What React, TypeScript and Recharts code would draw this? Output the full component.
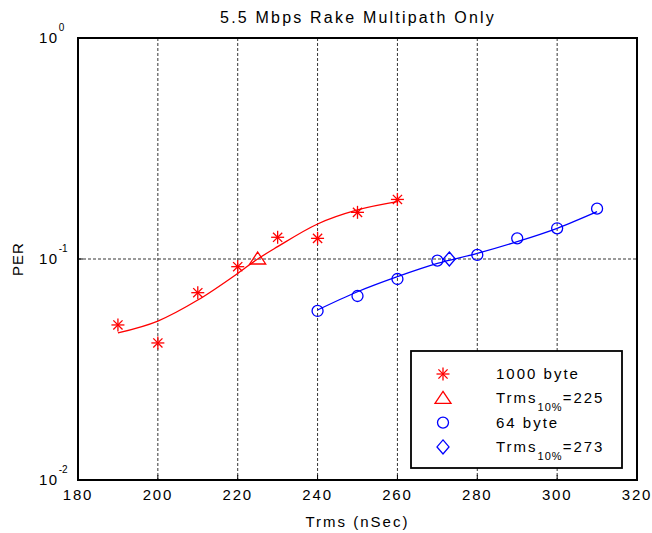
import { ComposedChart, Line, Scatter, XAxis, YAxis, CartesianGrid, ReferenceArea } from 'recharts'

const FONT = '"Liberation Sans", Arial, Helvetica, sans-serif'
const RED = '#ff0000'
const BLUE = '#0000ff'

// axes: Trms (nSec) linear, PER log
const xTicks = [180, 200, 220, 240, 260, 280, 300, 320]
const yTicks = [0.01, 0.1, 1]

// 1000 byte packets: measured PER and fitted curve
const trms1000 = [190, 200, 210, 220, 230, 240, 250, 260]
const per1000 = [0.0503, 0.0417, 0.0704, 0.0923, 0.1254, 0.124, 0.1626, 0.186]
const fitTrms1000 = [190, 200, 210, 220, 225, 230, 240, 250, 260]
const fitPer1000 = [0.0463, 0.0524, 0.0652, 0.0861, 0.1, 0.1137, 0.144, 0.1667, 0.1817]
const cross1000 = { trms: 225, per: 0.1 }

// 64 byte packets
const trms64 = [240, 250, 260, 270, 280, 290, 300, 310]
const per64 = [0.0582, 0.068, 0.0812, 0.0983, 0.1043, 0.124, 0.1377, 0.169]
const fitTrms64 = [240, 250, 260, 270, 280, 290, 300, 310]
const fitPer64 = [0.0588, 0.0711, 0.0832, 0.0955, 0.106, 0.1198, 0.1377, 0.1637]
const cross64 = { trms: 273, per: 0.1 }

const legendItems = [
  { shape: 'star', color: RED, label: '1000 byte' },
  { shape: 'triangle', color: RED, label: 'Trms', sub: '10%', tail: '=225' },
  { shape: 'circle', color: BLUE, label: '64 byte' },
  { shape: 'diamond', color: BLUE, label: 'Trms', sub: '10%', tail: '=273' },
]

const toRows = (xs: number[], ys: number[]) => xs.map((x, i) => ({ x, y: ys[i] }))

function Marker({ shape, cx, cy, color }: { shape: string; cx: number; cy: number; color: string }) {
  const p = { stroke: color, strokeWidth: 1.3, fill: 'none' }
  if (shape === 'star') {
    const h = 6.5
    const d = 4.6
    return (
      <g {...p}>
        <line x1={cx - h} y1={cy} x2={cx + h} y2={cy} />
        <line x1={cx} y1={cy - h} x2={cx} y2={cy + h} />
        <line x1={cx - d} y1={cy - d} x2={cx + d} y2={cy + d} />
        <line x1={cx - d} y1={cy + d} x2={cx + d} y2={cy - d} />
      </g>
    )
  }
  if (shape === 'triangle') {
    return <polygon {...p} points={`${cx},${cy - 7} ${cx + 8},${cy + 5} ${cx - 8},${cy + 5}`} />
  }
  if (shape === 'diamond') {
    return <polygon {...p} points={`${cx},${cy - 7} ${cx + 6},${cy} ${cx},${cy + 7} ${cx - 6},${cy}`} />
  }
  return <circle {...p} cx={cx} cy={cy} r={5.5} />
}

const shapeFor = (shape: string, color: string) => (props: any) =>
  <Marker shape={shape} cx={props.cx} cy={props.cy} color={color} />

function XTick(props: any) {
  const { x, y, payload } = props
  return (
    <text x={x} y={y + 25} textAnchor="middle" fontFamily={FONT} fontSize={15} letterSpacing={1.8} fill="#000">
      {payload.value}
    </text>
  )
}

function PowerTick(props: any) {
  const { x, y, payload } = props
  const exp = Math.round(Math.log10(payload.value))
  return (
    <text fontFamily={FONT} fill="#000">
      <tspan x={x - 44} y={y + 5} fontSize={15} letterSpacing={1.5}>10</tspan>
      <tspan dy={-12} fontSize={10}>{exp}</tspan>
    </text>
  )
}

function ChartLegend() {
  const left = 411
  const top = 351
  return (
    <g fontFamily={FONT} fontSize={15} fill="#000">
      <rect x={left} y={top} width={211} height={117} fill="#fff" stroke="#000" strokeWidth={1.8} />
      {legendItems.map((it, i) => {
        const cy = top + 23 + i * 24.3
        return (
          <g key={i}>
            <Marker shape={it.shape} cx={443} cy={cy} color={it.color} />
            <text x={496} y={cy + 5} letterSpacing={2}>
              {it.label}
              {it.sub && (
                <tspan dy={8} fontSize={11} letterSpacing={1}>{it.sub}</tspan>
              )}
              {it.tail && <tspan dy={-8}>{it.tail}</tspan>}
            </text>
          </g>
        )
      })}
    </g>
  )
}

export default function App() {
  return (
    <div style={{ position: 'absolute', left: 0, top: 0, width: 652, height: 533, background: '#fff' }}>
      <ComposedChart width={652} height={533} margin={{ top: 38, right: 15, bottom: 0, left: 0 }}>
        <CartesianGrid stroke="#000" strokeDasharray="3 2" strokeWidth={0.8} />
        <XAxis
          dataKey="x"
          type="number"
          domain={[180, 320]}
          ticks={xTicks}
          allowDataOverflow
          height={53}
          tickSize={-5}
          tickMargin={0}
          tick={<XTick />}
          axisLine={false}
          tickLine={{ stroke: '#000' }}
          label={{ value: 'Trms (nSec)', position: 'insideBottom', offset: 6, style: { fontFamily: FONT, fontSize: 15, letterSpacing: 2, fill: '#000' } }}
        />
        <XAxis
          xAxisId="top"
          orientation="top"
          type="number"
          domain={[180, 320]}
          ticks={xTicks}
          allowDataOverflow
          height={0}
          tickSize={-5}
          tick={false}
          axisLine={false}
          tickLine={{ stroke: '#000' }}
        />
        <YAxis
          scale="log"
          type="number"
          domain={[0.01, 1]}
          ticks={yTicks}
          allowDataOverflow
          width={78}
          tickSize={-5}
          tickMargin={0}
          tick={<PowerTick />}
          axisLine={false}
          tickLine={{ stroke: '#000' }}
        />
        <YAxis
          yAxisId="right"
          orientation="right"
          scale="log"
          type="number"
          domain={[0.01, 1]}
          ticks={yTicks}
          allowDataOverflow
          width={0}
          tickSize={-5}
          tick={false}
          axisLine={false}
          tickLine={{ stroke: '#000' }}
        />
        <ReferenceArea x1={180} x2={320} y1={0.01} y2={1} fill="none" stroke="#000" strokeWidth={2} ifOverflow="visible" />
        <Line data={toRows(fitTrms1000, fitPer1000)} dataKey="y" type="monotone" stroke={RED} strokeWidth={1.3} dot={false} isAnimationActive={false} />
        <Line data={toRows(fitTrms64, fitPer64)} dataKey="y" type="monotone" stroke={BLUE} strokeWidth={1.3} dot={false} isAnimationActive={false} />
        <Scatter data={toRows(trms1000, per1000)} dataKey="y" shape={shapeFor('star', RED)} isAnimationActive={false} />
        <Scatter data={[{ x: cross1000.trms, y: cross1000.per }]} dataKey="y" shape={shapeFor('triangle', RED)} isAnimationActive={false} />
        <Scatter data={toRows(trms64, per64)} dataKey="y" shape={shapeFor('circle', BLUE)} isAnimationActive={false} />
        <Scatter data={[{ x: cross64.trms, y: cross64.per }]} dataKey="y" shape={shapeFor('diamond', BLUE)} isAnimationActive={false} />
        <text x={358} y={23} textAnchor="middle" fontFamily={FONT} fontSize={16} letterSpacing={2.2} fill="#000">
          5.5 Mbps Rake Multipath Only
        </text>
        <text x={23} y={259} transform="rotate(-90 23 259)" textAnchor="middle" fontFamily={FONT} fontSize={15} letterSpacing={1} fill="#000">
          PER
        </text>
        <ChartLegend />
      </ComposedChart>
    </div>
  )
}
